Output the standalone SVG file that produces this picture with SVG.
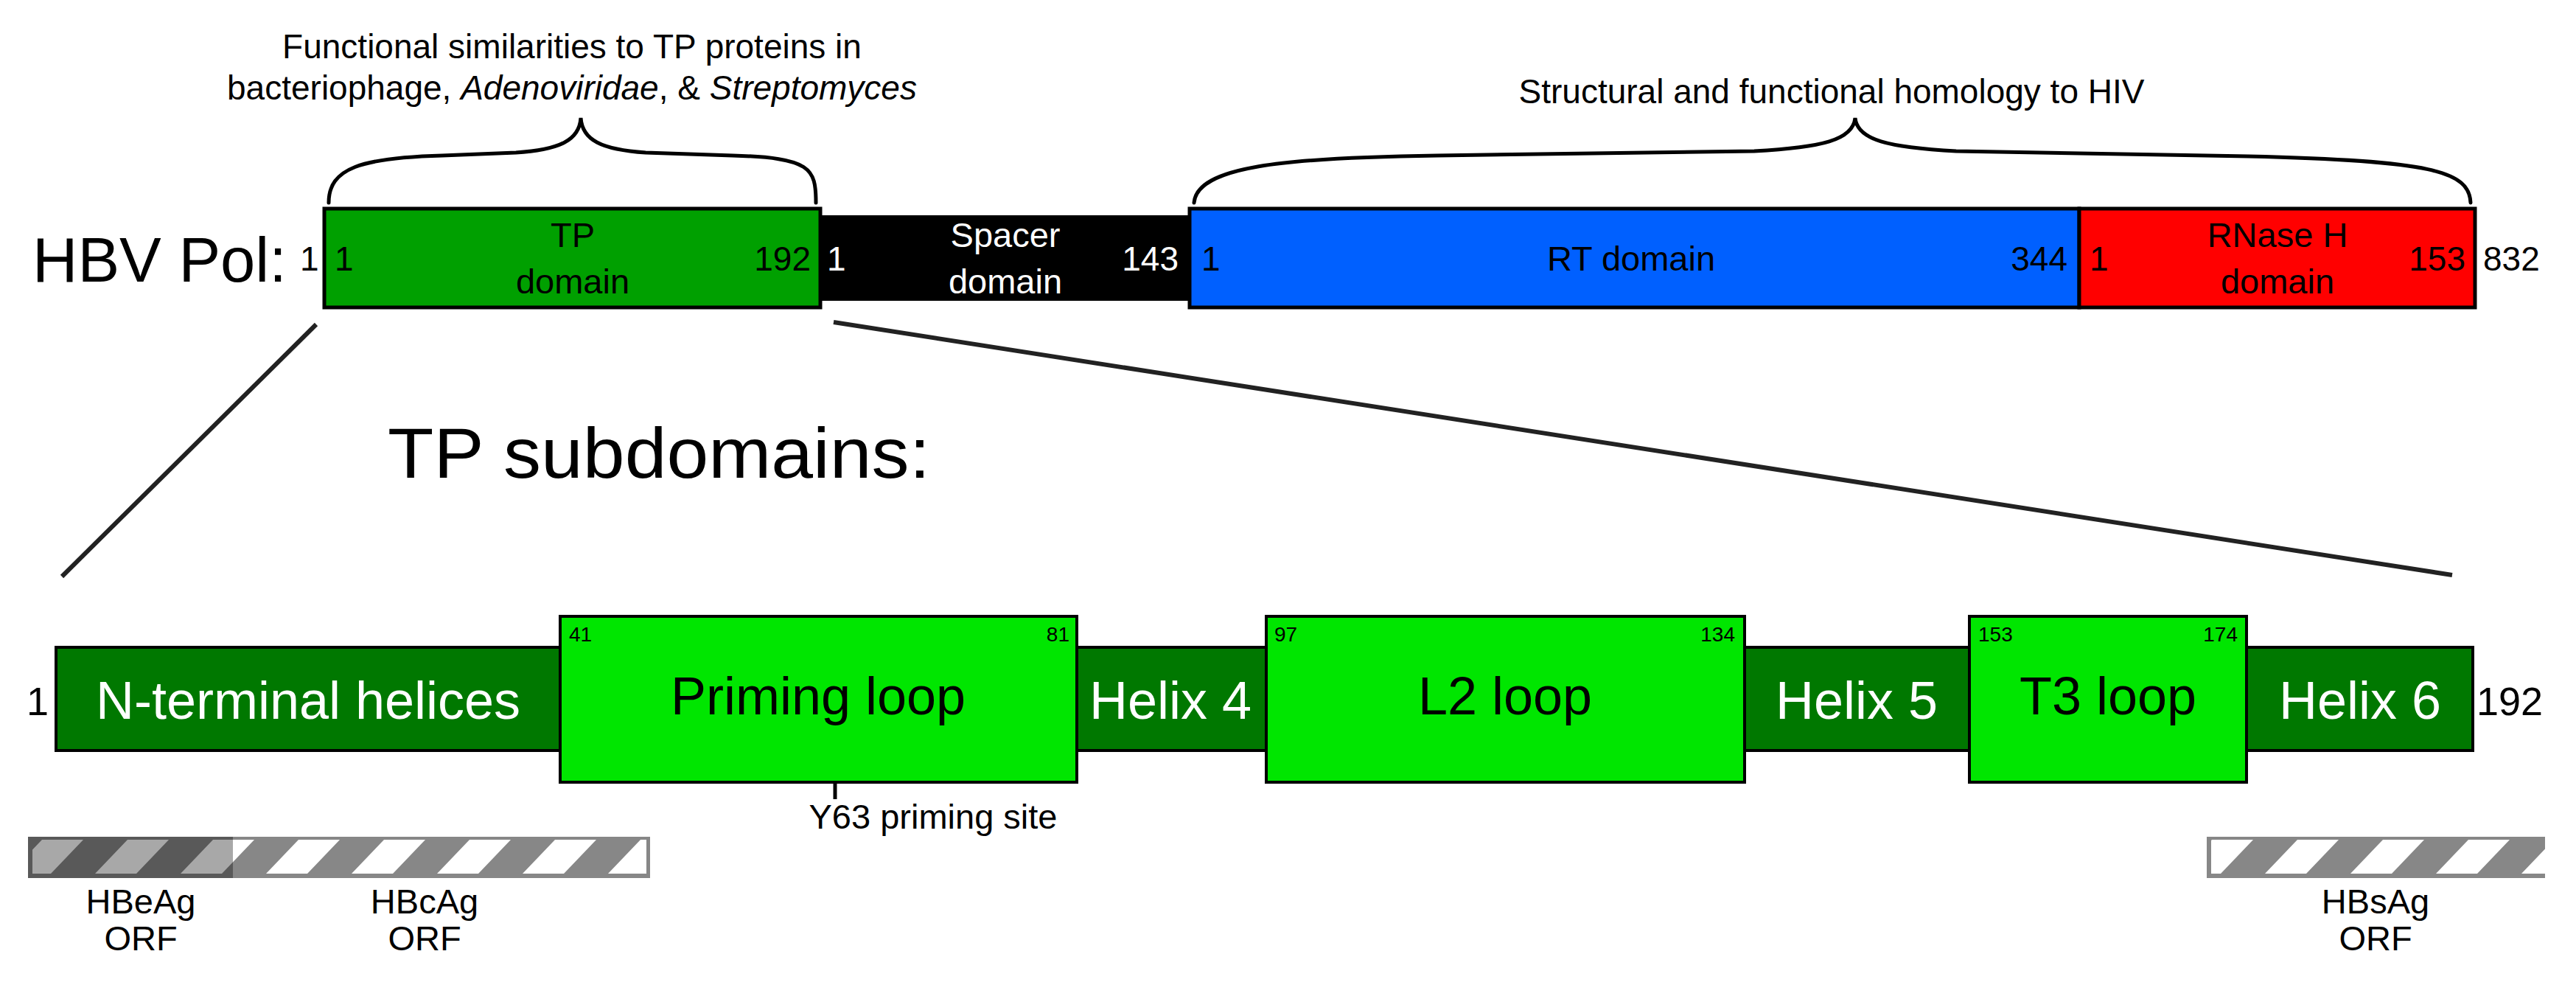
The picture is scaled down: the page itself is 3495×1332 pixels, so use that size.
<svg xmlns="http://www.w3.org/2000/svg" width="3495" height="1332" viewBox="0 0 3495 1332">
<style>
text{font-family:"Liberation Sans",Arial,sans-serif;fill:#000}
.w{fill:#fff}
.ttl{font-size:46px;text-anchor:middle}
.num{font-size:46px}
.dom{font-size:47px;text-anchor:middle}
.big{font-size:72px;text-anchor:middle}
.sm{font-size:28px}
.lab{font-size:47px;text-anchor:middle}
.box{stroke:#000;stroke-width:5}
.sbox{stroke:#000;stroke-width:4}
.helix{fill:#007800}
.loop{fill:#00e600}
.brace{fill:none;stroke:#000;stroke-width:5;stroke-linecap:round}
.conn{stroke:#222;stroke-width:6;fill:none}
.bar{fill:#878787}
</style>
<defs>
<pattern id="stripeC" patternUnits="userSpaceOnUse" x="173" y="1139" width="116" height="46">
<path d="M0,0H56L12,46H-44Z M116,0H172L128,46H72Z" fill="#fff"/>
</pattern>
<pattern id="stripeS" patternUnits="userSpaceOnUse" x="3117" y="1139" width="116" height="46">
<path d="M0,0H56L12,46H-44Z M116,0H172L128,46H72Z" fill="#fff"/>
</pattern>
</defs>
<rect width="3495" height="1332" fill="#fff"/>

<g id="title-tp">
<text class="ttl" x="776" y="79">Functional similarities to TP proteins in</text>
<text class="ttl" x="776" y="135">bacteriophage, <tspan font-style="italic">Adenoviridae</tspan>, &amp; <tspan font-style="italic">Streptomyces</tspan></text>
<path class="brace" d="M446,275 C446,228 490,214 600,211 L700,207 C760,203 786,190 788,160 C790,190 816,203 876,207 L994,211 C1100,214 1107,228 1107,275"/>
</g>
<g id="title-hiv">
<text class="ttl" x="2485" y="140">Structural and functional homology to HIV</text>
<path class="brace" d="M1620,275 C1624,226 1740,214 1950,211 L2380,205 C2472,200 2514,190 2517,160 C2520,190 2562,200 2654,205 L3050,212 C3300,218 3350,232 3352,275"/>
</g>

<g id="hbv-label">
<text x="44" y="382" font-size="85">HBV Pol:</text>
<text class="num" x="407" y="367">1</text>
<text class="num" x="3369" y="367">832</text>
</g>

<g id="tp-domain">
<rect class="box" x="440" y="283" width="673" height="134" fill="#00a000"/>
<text class="dom" x="777" y="335">TP</text>
<text class="dom" x="777" y="398">domain</text>
<text class="num" x="454" y="367">1</text>
<text class="num" x="1100" y="367" text-anchor="end">192</text>
</g>

<g id="spacer-domain">
<rect x="1113" y="292" width="501" height="116" fill="#000"/>
<text class="dom w" x="1364" y="335">Spacer</text>
<text class="dom w" x="1364" y="398">domain</text>
<text class="num w" x="1122" y="367">1</text>
<text class="num w" x="1599" y="367" text-anchor="end">143</text>
</g>

<g id="rt-domain">
<rect class="box" x="1614" y="283" width="1207" height="134" fill="#0060ff"/>
<text class="dom" x="2213" y="367">RT domain</text>
<text class="num" x="1630" y="367">1</text>
<text class="num" x="2805" y="367" text-anchor="end">344</text>
</g>

<g id="rnaseh-domain">
<rect class="box" x="2821" y="283" width="537" height="134" fill="#ff0000"/>
<text class="dom" x="3090" y="335">RNase H</text>
<text class="dom" x="3090" y="398">domain</text>
<text class="num" x="2835" y="367">1</text>
<text class="num" x="3345" y="367" text-anchor="end">153</text>
</g>

<g id="connectors">
<line class="conn" x1="429" y1="440" x2="84" y2="782"/>
<line class="conn" x1="1131" y1="437" x2="3327" y2="780"/>
<line x1="1133" y1="1061" x2="1133" y2="1084" stroke="#000" stroke-width="5"/>
</g>

<g id="subdomains-title">
<text x="526" y="648" font-size="96" textLength="736" lengthAdjust="spacingAndGlyphs">TP subdomains:</text>
</g>

<g id="n-terminal-helices">
<rect class="sbox helix" x="76" y="878" width="685" height="140"/>
<text class="big w" x="418" y="975">N-terminal helices</text>
<text x="36" y="970" font-size="54">1</text>
</g>

<g id="priming-loop">
<rect class="sbox loop" x="760" y="836" width="701" height="225"/>
<text class="big" x="1110" y="969">Priming loop</text>
<text class="sm" x="772" y="870">41</text>
<text class="sm" x="1451" y="870" text-anchor="end">81</text>
</g>

<g id="helix-4">
<rect class="sbox helix" x="1461" y="878" width="257" height="140"/>
<text class="big w" x="1588" y="975">Helix 4</text>
</g>

<g id="l2-loop">
<rect class="sbox loop" x="1718" y="836" width="649" height="225"/>
<text class="big" x="2042" y="969">L2 loop</text>
<text class="sm" x="1729" y="870">97</text>
<text class="sm" x="2354" y="870" text-anchor="end">134</text>
</g>

<g id="helix-5">
<rect class="sbox helix" x="2367" y="878" width="305" height="140"/>
<text class="big w" x="2519" y="975">Helix 5</text>
</g>

<g id="t3-loop">
<rect class="sbox loop" x="2672" y="836" width="376" height="225"/>
<text class="big" x="2860" y="969">T3 loop</text>
<text class="sm" x="2684" y="870">153</text>
<text class="sm" x="3036" y="870" text-anchor="end">174</text>
</g>

<g id="helix-6">
<rect class="sbox helix" x="3048" y="878" width="307" height="140"/>
<text class="big w" x="3202" y="975">Helix 6</text>
<text x="3360" y="970" font-size="54">192</text>
</g>

<g id="y63-site">
<text class="lab" x="1266" y="1124">Y63 priming site</text>
</g>

<g id="hbc-orf">
<rect class="bar" x="38" y="1135" width="844" height="56"/>
<rect x="44" y="1139" width="833" height="46" fill="url(#stripeC)"/>
<text class="lab" x="576" y="1239">HBcAg</text>
<text class="lab" x="576" y="1289">ORF</text>
</g>

<g id="hbe-orf">
<rect x="38" y="1135" width="278" height="56" fill="#000" fill-opacity="0.34"/>
<text class="lab" x="191" y="1239">HBeAg</text>
<text class="lab" x="191" y="1289">ORF</text>
</g>

<g id="hbs-orf">
<rect class="bar" x="2994" y="1135" width="459" height="56"/>
<rect x="3000" y="1139" width="453" height="46" fill="url(#stripeS)"/>
<text class="lab" x="3223" y="1239">HBsAg</text>
<text class="lab" x="3223" y="1289">ORF</text>
</g>
</svg>
